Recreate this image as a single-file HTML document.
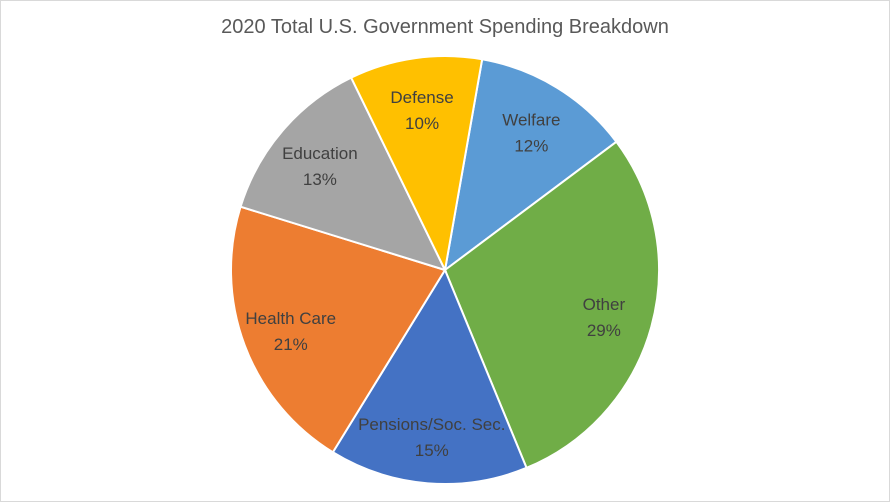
<!DOCTYPE html>
<html><head><meta charset="utf-8"><style>
body{margin:0;background:#fff}
svg{display:block;font-family:"Liberation Sans",Arial,sans-serif}
</style></head><body>
<svg id="chart" width="890" height="502" viewBox="0 0 890 502">
<rect x="0.5" y="0.5" width="889" height="501" fill="#fff" stroke="#d9d9d9"/>
<text x="445" y="33" text-anchor="middle" font-size="20" fill="#595959">2020 Total U.S. Government Spending Breakdown</text>
<g id="slices"></g>
<g id="labels"></g>
</svg>
<script>
const categories=["Welfare","Other","Pensions/Soc. Sec.","Health Care","Education","Defense"];
const values=[12,29,15,21,13,10];
const colors=["#5b9bd5","#70ad47","#4472c4","#ed7d31","#a5a5a5","#ffc000"];
const cx=445,cy=270,R=214,startDeg=10;
const ns="http://www.w3.org/2000/svg";
const total=values.reduce((a,b)=>a+b,0);
const gS=document.getElementById("slices"),gL=document.getElementById("labels");
function pt(deg,r){const a=deg*Math.PI/180;return[cx+r*Math.sin(a),cy-r*Math.cos(a)];}
let ang=startDeg;
values.forEach((v,i)=>{
  const sweep=v/total*360;
  const p1=pt(ang,R),p2=pt(ang+sweep,R);
  const path=document.createElementNS(ns,"path");
  path.setAttribute("d",`M${cx},${cy}L${p1[0]},${p1[1]}A${R},${R} 0 ${sweep>180?1:0} 1 ${p2[0]},${p2[1]}Z`);
  path.setAttribute("fill",colors[i]);
  path.setAttribute("stroke","#fff");
  path.setAttribute("stroke-width","2");
  
  
  gS.appendChild(path);
  const m=pt(ang+sweep/2,R*0.77);
  const t=document.createElementNS(ns,"text");
  t.setAttribute("x",m[0]);t.setAttribute("y",m[1]-4);
  t.setAttribute("text-anchor","middle");t.setAttribute("font-size","17");t.setAttribute("fill","#404040");
  
  
  const s1=document.createElementNS(ns,"tspan");s1.setAttribute("x",m[0]);s1.textContent=categories[i];
  const s2=document.createElementNS(ns,"tspan");s2.setAttribute("x",m[0]);s2.setAttribute("dy","26");s2.textContent=Math.round(v/total*100)+"%";
  t.appendChild(s1);t.appendChild(s2);gL.appendChild(t);
  ang+=sweep;
});
</script>
</body></html>
